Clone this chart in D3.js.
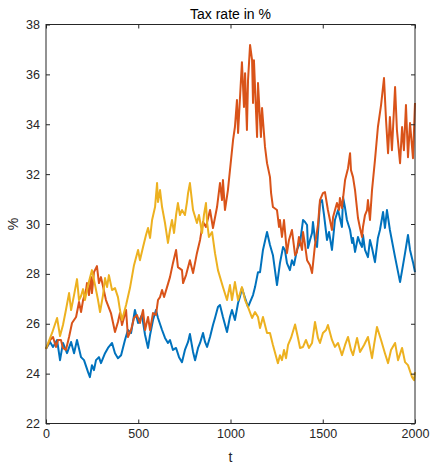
<!DOCTYPE html>
<html><head><meta charset="utf-8">
<script src="https://cdn.jsdelivr.net/npm/d3@7"></script>
<style>
html,body{margin:0;padding:0;background:#fff;}
svg{display:block;font-family:"Liberation Sans",Arial,Helvetica,sans-serif;}
</style></head>
<body><svg id="chart" width="433" height="465"></svg>
<script>
const titleText = "Tax rate in %";
const xLabel = "t";
const yLabel = "%";
const xTicks = [0, 500, 1000, 1500, 2000];
const yTicks = [22, 24, 26, 28, 30, 32, 34, 36, 38];
const seriesNames = ["blue", "orange", "yellow"];
const seriesColors = ["#0072BD", "#D95319", "#EDB120"];

const blue = [[0,25.0],[22,25.27],[38,25.07],[60,25.35],[76,24.54],[92,25.23],[114,24.82],[136,25.27],[152,24.82],[168,25.35],[190,24.66],[206,24.54],[228,24.06],[238,23.86],[249,24.34],[260,24.14],[271,24.54],[287,24.66],[298,24.42],[320,24.82],[336,25.03],[358,25.23],[374,24.82],[390,24.62],[407,24.74],[428,25.35],[444,25.75],[461,25.63],[482,26.55],[499,26.03],[520,26.35],[537,25.55],[553,25.03],[564,25.55],[580,26.15],[596,26.55],[607,26.23],[629,25.75],[645,25.43],[661,25.23],[672,25.35],[688,24.95],[705,25.03],[721,24.66],[737,24.46],[753,24.95],[770,25.27],[780,25.59],[797,24.87],[808,24.54],[824,25.03],[835,25.23],[851,25.63],[862,25.27],[873,25.07],[889,25.47],[905,25.95],[916,26.23],[932,26.67],[943,26.75],[959,26.27],[981,25.67],[997,26.27],[1008,26.55],[1024,26.15],[1041,26.83],[1051,27.07],[1062,27.43],[1079,27.03],[1095,26.67],[1106,26.87],[1122,27.15],[1133,27.47],[1149,28.07],[1160,28.07],[1176,28.96],[1198,29.68],[1214,29.16],[1230,28.75],[1252,27.55],[1268,28.43],[1285,29.08],[1295,28.96],[1306,28.43],[1322,28.15],[1333,28.55],[1344,28.35],[1360,28.96],[1377,29.24],[1393,30.16],[1404,30.08],[1415,29.96],[1420,29.04],[1431,29.36],[1442,29.64],[1447,30.08],[1458,29.36],[1469,29.08],[1485,30.84],[1496,30.96],[1507,30.36],[1523,29.36],[1534,29.68],[1550,28.96],[1566,30.16],[1583,30.56],[1604,29.88],[1610,31.08],[1621,30.64],[1631,30.16],[1648,29.76],[1659,29.24],[1664,29.44],[1675,28.88],[1691,29.48],[1702,29.24],[1713,29.08],[1718,29.56],[1729,28.96],[1745,28.67],[1756,29.36],[1767,29.04],[1783,28.47],[1799,29.44],[1810,29.76],[1827,30.48],[1837,29.84],[1848,30.56],[1864,29.76],[1892,28.67],[1919,27.67],[1935,28.35],[1946,28.83],[1962,29.56],[1973,28.96],[1989,28.47],[2000,28.07]];

const orange = [[0,24.99],[22,25.35],[38,25.47],[54,25.07],[65,25.35],[81,25.35],[92,25.03],[108,24.95],[125,25.47],[141,26.03],[163,26.27],[179,26.87],[190,26.47],[201,26.95],[217,27.35],[222,27.63],[233,27.15],[244,27.87],[249,27.23],[260,28.07],[276,28.31],[287,27.63],[298,27.87],[325,26.95],[352,26.43],[374,25.67],[390,26.07],[401,26.43],[412,25.95],[434,26.55],[444,25.47],[461,25.75],[477,26.23],[493,26.35],[509,26.03],[526,26.55],[537,25.75],[553,26.27],[564,25.75],[580,26.43],[596,26.35],[607,26.95],[618,27.07],[629,27.35],[640,27.07],[656,27.47],[672,27.87],[688,28.43],[705,28.96],[715,28.27],[737,28.15],[743,27.63],[759,27.95],[780,28.55],[797,28.03],[818,28.83],[835,29.36],[851,30.08],[867,29.88],[889,30.56],[905,29.84],[927,30.68],[943,31.64],[954,30.96],[959,31.76],[970,30.56],[986,31.36],[1014,33.37],[1024,33.89],[1035,34.97],[1041,33.65],[1062,36.49],[1073,34.69],[1079,36.05],[1089,33.77],[1095,35.77],[1106,37.18],[1117,36.57],[1122,34.85],[1127,36.57],[1144,33.49],[1149,35.65],[1165,33.49],[1171,34.65],[1187,33.09],[1198,32.44],[1214,31.88],[1220,31.24],[1230,30.68],[1252,30.56],[1263,29.88],[1268,30.16],[1279,29.48],[1290,30.16],[1306,28.83],[1317,29.36],[1333,29.76],[1350,28.75],[1360,28.87],[1371,29.48],[1388,28.96],[1393,29.68],[1404,29.16],[1415,28.55],[1431,28.35],[1442,28.03],[1458,29.16],[1474,29.96],[1485,30.96],[1501,31.24],[1512,31.28],[1528,30.56],[1550,29.76],[1556,30.28],[1577,30.84],[1588,30.56],[1593,31.04],[1604,30.64],[1621,31.76],[1637,32.24],[1648,32.84],[1653,32.16],[1664,31.88],[1675,31.36],[1691,30.24],[1702,29.84],[1713,29.48],[1718,29.88],[1729,30.36],[1740,30.56],[1745,30.96],[1756,30.16],[1767,31.36],[1783,32.56],[1799,33.89],[1816,34.77],[1832,35.85],[1843,34.17],[1854,32.84],[1864,34.29],[1875,32.96],[1892,35.49],[1902,33.77],[1919,32.44],[1930,33.89],[1940,32.96],[1951,34.77],[1962,32.68],[1973,34.05],[1989,32.64],[2000,34.85]];

const yellow = [[0,25.0],[33,25.63],[60,26.23],[76,25.51],[92,25.95],[108,26.55],[125,27.23],[136,26.55],[152,27.15],[168,27.79],[179,26.95],[190,27.11],[201,27.39],[211,26.95],[228,27.55],[249,28.15],[266,27.55],[282,26.95],[293,26.47],[309,27.15],[320,27.83],[331,27.47],[341,27.95],[358,27.35],[374,27.43],[390,27.07],[401,26.55],[412,26.15],[434,26.75],[455,27.43],[477,28.35],[499,28.96],[509,28.55],[526,29.08],[542,29.56],[553,29.84],[564,29.44],[575,30.16],[591,30.68],[602,31.64],[607,30.88],[618,31.36],[629,30.68],[645,30.04],[661,29.24],[672,29.76],[683,30.16],[694,29.64],[705,30.36],[715,30.84],[726,30.36],[737,30.56],[753,30.36],[764,30.88],[770,31.24],[780,31.64],[797,30.56],[818,30.04],[829,30.36],[846,29.64],[856,30.36],[867,30.84],[873,30.08],[883,29.48],[900,29.68],[916,28.83],[932,28.15],[959,27.47],[981,26.95],[997,27.55],[1008,26.95],[1024,27.67],[1041,26.95],[1062,27.47],[1079,26.95],[1095,26.67],[1117,26.23],[1133,26.47],[1149,26.27],[1160,25.83],[1176,26.27],[1198,25.63],[1214,25.63],[1230,25.15],[1257,24.42],[1268,24.74],[1279,24.54],[1290,24.95],[1301,24.62],[1312,25.15],[1328,25.43],[1350,25.97],[1366,25.43],[1377,25.03],[1393,25.07],[1409,25.35],[1425,25.03],[1442,25.23],[1458,26.07],[1474,25.43],[1485,25.23],[1501,25.63],[1518,25.75],[1528,25.95],[1550,25.35],[1566,25.07],[1583,25.23],[1604,24.74],[1621,25.15],[1637,25.47],[1653,24.95],[1664,24.74],[1686,25.43],[1702,24.87],[1724,25.15],[1745,25.47],[1767,24.62],[1778,25.15],[1794,25.87],[1816,25.35],[1837,24.82],[1854,24.42],[1870,24.95],[1892,25.23],[1908,24.54],[1930,25.03],[1946,24.46],[1962,24.34],[1984,23.86],[1995,23.74],[2000,24.06]];

const seriesData = [blue, orange, yellow];

const W = 433, H = 465;
const mLeft = 46, mRight = 415, mTop = 24.5, mBottom = 423.5;
const ink = "#262626";

const svg = d3.select("#chart");
const x = d3.scaleLinear().domain([0, 2000]).range([mLeft, mRight]);
const y = d3.scaleLinear().domain([22, 38]).range([mBottom, mTop]);

// data lines
const line = d3.line().x(d => x(d[0])).y(d => y(d[1]));
const plot = svg.append("g");
seriesData.forEach((s, i) => {
  plot.append("path")
    .datum(s)
    .attr("fill", "none")
    .attr("stroke", seriesColors[i])
    .attr("stroke-width", 2)
    .attr("stroke-linejoin", "round")
    .attr("d", line);
});

// axes
function styleAxis(g) {
  g.select(".domain").remove();
  g.selectAll(".tick line").attr("stroke", ink).attr("stroke-width", 1);
  g.selectAll(".tick text").attr("fill", ink).attr("font-size", "12.5px")
    .attr("font-family", '"Liberation Sans",Arial,Helvetica,sans-serif');
}
svg.append("g").attr("transform", `translate(0,${mBottom})`)
  .call(d3.axisBottom(x).tickValues(xTicks).tickSize(-4).tickPadding(6).tickFormat(d3.format("d")))
  .call(styleAxis);
svg.append("g").attr("transform", `translate(0,${mTop})`)
  .call(d3.axisTop(x).tickValues(xTicks).tickSize(-4).tickFormat(""))
  .call(styleAxis);
svg.append("g").attr("transform", `translate(${mLeft},0)`)
  .call(d3.axisLeft(y).tickValues(yTicks).tickSize(-4).tickPadding(6).tickFormat(d3.format("d")))
  .call(styleAxis);
svg.append("g").attr("transform", `translate(${mRight},0)`)
  .call(d3.axisRight(y).tickValues(yTicks).tickSize(-4).tickFormat(""))
  .call(styleAxis);

// box
svg.append("rect")
  .attr("x", mLeft).attr("y", mTop)
  .attr("width", mRight - mLeft).attr("height", mBottom - mTop)
  .attr("fill", "none").attr("stroke", ink).attr("stroke-width", 1);

// title and labels
svg.append("text").attr("x", (mLeft + mRight) / 2).attr("y", 19)
  .attr("text-anchor", "middle").attr("fill", "#000").attr("font-size", "14px")
  .text(titleText);
svg.append("text").attr("x", (mLeft + mRight) / 2).attr("y", 462)
  .attr("text-anchor", "middle").attr("fill", ink).attr("font-size", "14px")
  .text(xLabel);
svg.append("text").attr("transform", `translate(18,${(mTop + mBottom) / 2}) rotate(-90)`)
  .attr("text-anchor", "middle").attr("fill", ink).attr("font-size", "14px")
  .text(yLabel);
</script>
</body></html>
